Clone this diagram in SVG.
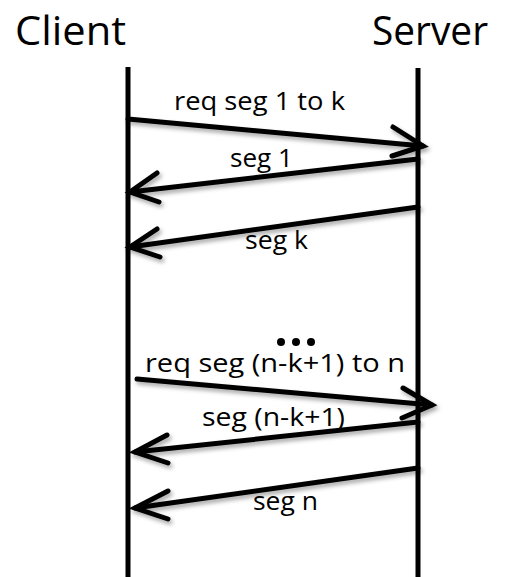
<svg xmlns="http://www.w3.org/2000/svg" width="507" height="577" viewBox="0 0 507 577">
  <style>
    .title { font-family: "Open Sans", "Liberation Sans", sans-serif; font-size: 40px; fill: #000; }
    .lbl { font-family: "Open Sans", "Liberation Sans", sans-serif; font-size: 25px; fill: #000; }
    .life { stroke: #000; stroke-width: 5; fill: none; }
    .msg { stroke: #000; stroke-width: 5; fill: none; stroke-linecap: round; stroke-linejoin: miter; }
  </style>
  <defs>
    <filter id="sh" x="-10%" y="-50%" width="120%" height="200%">
      <feDropShadow dx="2" dy="3" stdDeviation="2" flood-color="#000" flood-opacity="0.35"/>
    </filter>
  </defs>
  <rect width="507" height="577" fill="#fff"/>

  <g id="client">
    <text class="title" x="15" y="45" textLength="111" lengthAdjust="spacingAndGlyphs">Client</text>
    <line class="life" x1="128" y1="67" x2="128" y2="577"/>
  </g>
  <g id="server">
    <text class="title" x="372" y="45" textLength="116" lengthAdjust="spacingAndGlyphs">Server</text>
    <line class="life" x1="418" y1="68" x2="418" y2="577"/>
  </g>

  <g id="connectors" filter="url(#sh)">
    <polyline class="msg" points="128,119 423,146"/>
    <polyline class="msg" points="393,127 423,146 392,156"/>

    <polyline class="msg" points="418,159 130,192"/>
    <polyline class="msg" points="157,173 130,192 159,202"/>

    <polyline class="msg" points="418,207 130,247"/>
    <polyline class="msg" points="157,229 130,247 160,257"/>

    <polyline class="msg" points="137,379 432,405"/>
    <polyline class="msg" points="403,388 432,405 402,418"/>

    <polyline class="msg" points="418,422 135,452"/>
    <polyline class="msg" points="167,435 135,452 168,463"/>

    <polyline class="msg" points="418,468 135,508"/>
    <polyline class="msg" points="168,491 135,508 168,519"/>
  </g>

  <g id="labels">
    <text class="lbl" x="174" y="110" textLength="171" lengthAdjust="spacingAndGlyphs">req seg 1 to k</text>
    <text class="lbl" x="230" y="167" textLength="63" lengthAdjust="spacingAndGlyphs">seg 1</text>
    <text class="lbl" x="245" y="249" textLength="63" lengthAdjust="spacingAndGlyphs">seg k</text>
    <g id="ellipsis" fill="#000">
      <circle cx="281" cy="342" r="4"/>
      <circle cx="296" cy="342" r="4"/>
      <circle cx="311" cy="342" r="4"/>
    </g>
    <text class="lbl" x="145" y="372" textLength="260" lengthAdjust="spacingAndGlyphs">req seg (n-k+1) to n</text>
    <text class="lbl" x="202" y="426" textLength="143" lengthAdjust="spacingAndGlyphs">seg (n-k+1)</text>
    <text class="lbl" x="253" y="510" textLength="65" lengthAdjust="spacingAndGlyphs">seg n</text>
  </g>
</svg>
